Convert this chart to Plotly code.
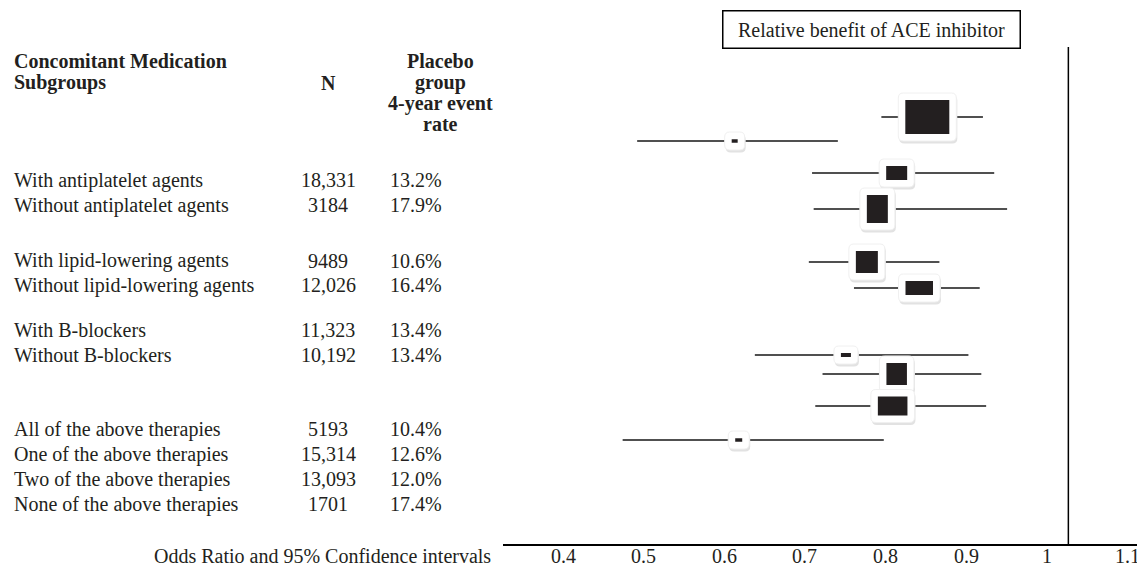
import plotly.graph_objects as go

# ---------------- data ----------------
subgroups = [
    "With antiplatelet agents", "Without antiplatelet agents",
    "With lipid-lowering agents", "Without lipid-lowering agents",
    "With B-blockers", "Without B-blockers",
    "All of the above therapies", "One of the above therapies",
    "Two of the above therapies", "None of the above therapies",
]
n_patients = ["18,331", "3184", "9489", "12,026", "11,323", "10,192",
              "5193", "15,314", "13,093", "1701"]
event_rate = ["13.2%", "17.9%", "10.6%", "16.4%", "13.4%", "13.4%",
              "10.4%", "12.6%", "12.0%", "17.4%"]

# odds ratios and 95% CI as drawn (top to bottom)
odds_ratio = [0.852, 0.613, 0.814, 0.790, 0.777, 0.842, 0.751, 0.814, 0.809, 0.618]
ci_low     = [0.795, 0.492, 0.709, 0.711, 0.705, 0.761, 0.638, 0.722, 0.713, 0.474]
ci_high    = [0.921, 0.741, 0.935, 0.951, 0.867, 0.917, 0.903, 0.919, 0.925, 0.798]
mark_rows  = [117, 141, 173, 209, 262, 288, 355, 374, 406, 440]

tick_values = [0.4, 0.5, 0.6, 0.7, 0.8, 0.9, 1.0, 1.1]
tick_labels = ["0.4", "0.5", "0.6", "0.7", "0.8", "0.9", "1", "1.1"]
reference_line = 1.027

# ---------------- styles / layout ----------------
W, H = 1137, 568
FONT = "Liberation Serif"
INK = "#231f20"
box_px = [(44, 34), (6, 3.5), (21, 14), (21, 28), (22, 22),
          (27.5, 14), (10, 4), (20.5, 22), (29.6, 19), (7, 3.5)]
label_rows = [180, 205, 260.5, 285, 330, 355, 429, 454, 479, 504]


def px(x):
    return x / W


def py(y):
    return 1 - y / H


def rrect(w, h, r, dx=0.0, dy=0.0):
    x0, x1 = -w / 2 + dx, w / 2 + dx
    y0, y1 = -h / 2 + dy, h / 2 + dy
    r = min(r, w / 2, h / 2)
    return (f"M{x0+r},{y0} L{x1-r},{y0} Q{x1},{y0} {x1},{y0+r} "
            f"L{x1},{y1-r} Q{x1},{y1} {x1-r},{y1} L{x0+r},{y1} "
            f"Q{x0},{y1} {x0},{y1-r} L{x0},{y0+r} Q{x0},{y0} {x0+r},{y0} Z")


fig = go.Figure()

# CI lines
lx, ly = [], []
for lo, hi, r in zip(ci_low, ci_high, mark_rows):
    lx += [lo, hi, None]
    ly += [r, r, None]
fig.add_trace(go.Scatter(x=lx, y=ly, mode="lines",
                         line=dict(color="#505050", width=2),
                         hoverinfo="skip", showlegend=False))

shapes = []
# reference line
shapes.append(dict(type="line", xref="x", yref="y", x0=reference_line, x1=reference_line,
                   y0=47, y1=544, line=dict(color="black", width=1.5), layer="above"))

PAD = 7
for v, r, (bw, bh) in zip(odds_ratio, mark_rows, box_px):
    hw, hh = bw + 2 * PAD, bh + 2 * PAD
    hw, hh = max(hw, 19), max(hh, 18)
    common = dict(xref="x", yref="y", xsizemode="pixel", ysizemode="pixel",
                  xanchor=v, yanchor=r, layer="above")
    shapes.append(dict(type="path", path=rrect(hw, hh, 5, 1, -2.5),
                       fillcolor="rgb(226,226,226)", line=dict(width=0), **common))
    shapes.append(dict(type="path", path=rrect(hw, hh, 5),
                       fillcolor="white", line=dict(color="rgb(240,240,240)", width=1), **common))
    shapes.append(dict(type="rect", x0=-bw / 2, x1=bw / 2, y0=-bh / 2, y1=bh / 2,
                       fillcolor=INK, line=dict(width=0), **common))

ann = []


def text(x, y, s, anchor="left", bold=False):
    ann.append(dict(x=px(x), y=py(y), xref="paper", yref="paper", text=f"<b>{s}</b>" if bold else s,
                    showarrow=False, xanchor=anchor, yanchor="middle",
                    font=dict(family=FONT, size=20, color=INK)))


# headers
text(12, 61, "Concomitant Medication", bold=True)
text(12, 83, "Subgroups", bold=True)
text(328, 83, "N", "center", bold=True)
for s, y in zip(["Placebo", "group", "4-year event", "rate"], [61, 82, 103, 124]):
    text(440, y, s, "center", bold=True)

for s, n, e, y in zip(subgroups, n_patients, event_rate, label_rows):
    text(12, y, s)
    text(328, y, n, "center")
    text(388, y, e)

text(493, 556, "Odds Ratio and 95% Confidence intervals", "right")

# x-axis tick labels placed on the axis scale, just under the axis line
for tv, tl in zip(tick_values, tick_labels):
    ann.append(dict(x=tv, xref="x", y=py(556), yref="paper", text=tl, showarrow=False,
                    xanchor="center", yanchor="middle",
                    font=dict(family=FONT, size=20, color=INK)))

ann.append(dict(x=px(871), y=py(29.5), xref="paper", yref="paper",
                text="Relative benefit of ACE inhibitor", showarrow=False,
                xanchor="center", yanchor="middle", width=284, height=24,
                bordercolor="black", borderwidth=1.5, borderpad=6, bgcolor="white",
                font=dict(family=FONT, size=20, color=INK)))

x_lo = 0.4 - 60 / 806
x_hi = 0.4 + (W - 563) / 806

fig.update_layout(
    width=W, height=H, margin=dict(l=0, r=0, t=0, b=0),
    paper_bgcolor="white", plot_bgcolor="white",
    xaxis=dict(domain=[503 / W, 1], range=[x_lo, x_hi], showline=True, linecolor="black",
               linewidth=1.5, ticks="", showticklabels=False, showgrid=False,
               zeroline=False, fixedrange=True),
    yaxis=dict(domain=[(H - 544) / H, 1], range=[544, 0], visible=False, fixedrange=True),
    shapes=shapes, annotations=ann, showlegend=False,
)

fig.write_html(
    "out.html",
    config={"displayModeBar": False},
    post_script="document.body.style.margin='0px';document.body.style.overflow='hidden';",
)
